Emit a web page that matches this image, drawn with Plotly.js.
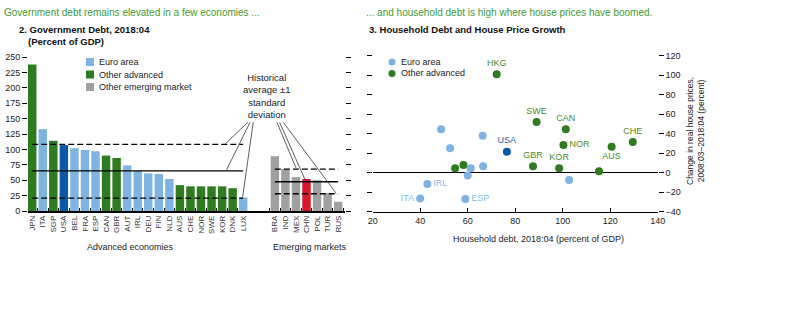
<!DOCTYPE html>
<html>
<head>
<meta charset="utf-8">
<script src="https://cdn.plot.ly/plotly-3.0.1.min.js"></script>
<style>html,body{margin:0;padding:0;background:#fff;}#chart{width:800px;height:330px;}</style>
</head>
<body>
<div id="chart"></div>
<script>
// ---------- Panel 2 data: Government debt, 2018:Q4 (percent of GDP) ----------
const advCodes = ['JPN','ITA','SGP','USA','BEL','FRA','ESP','CAN','GBR','AUT','IRL','DEU','FIN','NLD','AUS','CHE','NOR','SWE','KOR','DNK','LUX'];
const advDebt  = [238,133,114,107,102,99,97,90,86,74,65,61,60,52,42,40,40,40,40,37,22];
const advGroup = ['adv','euro','adv','usa','euro','euro','euro','adv','adv','euro','euro','euro','euro','euro','adv','adv','adv','adv','adv','adv','euro'];
const emCodes  = ['BRA','IND','MEX','CHN','POL','TUR','RUS'];
const emDebt   = [89,68,55,52,50,29,15];
const emGroup  = ['em','em','em','chn','em','em','em'];
// historical average -1sd, average, +1sd
const advBand  = [21, 65, 108];
const emBand   = [28, 47.5, 68];

// ---------- Panel 3 data: household debt vs house price growth ----------
const euroDebt   = [40, 43, 59, 60, 61.3, 66.5, 102.7, 52.6, 48.8, 66.3];
const euroPrice  = [-26.5, -11.5, -27, -3, 4.5, 6.5, -7.5, 25, 44.5, 38];
const euroLabels = ['ITA','IRL','ESP','','','','','','',''];
const othDebt    = [72.2, 89, 101.3, 100.3, 129.5, 120.6, 87.5, 98.5, 115.3, 54.7, 58.2];
const othPrice   = [101, 52, 44.5, 28.5, 31.5, 26.7, 6.5, 4.5, 1.5, 4.5, 8];
const othLabels  = ['HKG','SWE','CAN','NOR','CHE','AUS','GBR','KOR','','',''];
const usaDebt    = [76.5];
const usaPrice   = [21.5];
const usaLabels  = ['USA'];

// ---------- styles ----------
const C = {euro:'#7fb3e1', adv:'#2e7b20', usa:'#0a59a6', em:'#a0a0a0', chn:'#d7182a'};
const FONT = 'Liberation Sans, Arial, sans-serif';
const W = 800, H = 330;
const px = v => v / W, py = v => 1 - v / H;

// bar positions: advanced 0..20, gap, emerging after
const advPos = advCodes.map((_, i) => i);
const emStart = advCodes.length + 2;
const emPos = emCodes.map((_, i) => emStart + i);

const allPos = advPos.concat(emPos);
const allCodes = advCodes.concat(emCodes);
const allDebt = advDebt.concat(emDebt);
const allGroup = advGroup.concat(emGroup);

const traces = [];
['euro','adv','usa','em','chn'].forEach(g => {
  const xs = [], ys = [];
  allGroup.forEach((gg, i) => { if (gg === g) { xs.push(allPos[i]); ys.push(allDebt[i]); } });
  traces.push({type:'bar', x:xs, y:ys, width:0.8, marker:{color:C[g]}, xaxis:'x', yaxis:'y', showlegend:false, hoverinfo:'skip'});
});

function posFor(labels) {
  return labels.map(l => ({ITA:'middle left', AUS:'bottom center', NOR:'middle right', IRL:'middle right', ESP:'middle right'}[l] || 'top center'));
}
traces.push({type:'scatter', mode:'markers+text', x:euroDebt, y:euroPrice, text:euroLabels, textposition:posFor(euroLabels),
  textfont:{family:FONT, size:9, color:'#8dbbe3'}, marker:{size:8, color:C.euro}, xaxis:'x2', yaxis:'y2', showlegend:false, hoverinfo:'skip', cliponaxis:false});
traces.push({type:'scatter', mode:'markers+text', x:othDebt, y:othPrice, text:othLabels, textposition:posFor(othLabels),
  textfont:{family:FONT, size:9, color:'#4b8a2c'}, marker:{size:8, color:C.adv}, xaxis:'x2', yaxis:'y2', showlegend:false, hoverinfo:'skip', cliponaxis:false});
traces.push({type:'scatter', mode:'markers+text', x:usaDebt, y:usaPrice, text:usaLabels, textposition:'top center',
  textfont:{family:FONT, size:9, color:'#1a5fa8'}, marker:{size:8, color:C.usa}, xaxis:'x2', yaxis:'y2', showlegend:false, hoverinfo:'skip', cliponaxis:false});

// ---------- shapes ----------
const shapes = [];
const bandDash = ['6px,3px','solid','6px,3px'];
[[advBand, advPos[0], advPos[advPos.length-1]], [emBand, emPos[0], emPos[emPos.length-1]]].forEach(([band, x0, x1]) => {
  band.forEach((v, k) => shapes.push({type:'line', xref:'x', yref:'y', x0:x0, x1:x1, y0:v, y1:v, line:{color:'#000', width:1.3, dash:bandDash[k]}}));
});
// pointer lines from the "Historical average" note
const noteY = 144;
[[20.45,advBand[2]+1,18.3],[20.65,advBand[1]+1,18.4],[20.95,advBand[0]+2,19.95],
 [23.2,emBand[2]+2,25.0],[23.45,emBand[1]+2,25.9],[23.8,emBand[0]+1,28.8]].forEach(([xa, yb, xb]) => {
  shapes.push({type:'line', xref:'x', yref:'y', x0:xa, y0:noteY, x1:xb, y1:yb, line:{color:'#333', width:0.8}});
});
// legend swatches
const legL = [['Euro area', C.euro, 62], ['Other advanced', C.adv, 74.5], ['Other emerging market', C.em, 87]];
legL.forEach(([t, c, y]) => shapes.push({type:'rect', xref:'paper', yref:'paper', x0:px(86), x1:px(94), y0:py(y+4), y1:py(y-4), fillcolor:c, line:{width:0}}));
const legR = [['Euro area', C.euro, 62], ['Other advanced', C.adv, 73.5]];
legR.forEach(([t, c, y]) => shapes.push({type:'circle', xref:'paper', yref:'paper', x0:px(388.5), x1:px(395.5), y0:py(y+3.5), y1:py(y-3.5), fillcolor:c, line:{width:0}}));

// ---------- annotations ----------
const ann = [];
const txt = (x, y, text, o) => ann.push(Object.assign({xref:'paper', yref:'paper', x:px(x), y:py(y), text:text, showarrow:false,
  xanchor:'left', yanchor:'middle', font:{family:FONT, size:9, color:'#222'}}, o || {}));
txt(2, 12, 'Government debt remains elevated in a few economies ...', {font:{family:FONT, size:10, color:'#3f9a35'}});
txt(364, 12, '... and household debt is high where house prices have boomed.', {font:{family:FONT, size:10, color:'#3f9a35'}});
txt(17, 29, '<b>2. Government Debt, 2018:04</b>', {font:{family:FONT, size:9.5, color:'#111'}});
txt(26, 42, '<b>(Percent of GDP)</b>', {font:{family:FONT, size:9.5, color:'#111'}});
txt(367, 29, '<b>3. Household Debt and House Price Growth</b>', {font:{family:FONT, size:9.5, color:'#111'}});
legL.forEach(([t, c, y]) => txt(97, y, t));
legR.forEach(([t, c, y]) => txt(399, y, t));
txt(130, 247, 'Advanced economies', {xanchor:'center'});
txt(310, 247, 'Emerging markets', {xanchor:'center'});
txt(538, 239, 'Household debt, 2018:04 (percent of GDP)', {xanchor:'center'});
txt(695, 131, 'Change in real house prices,<br>2008:03–2018:04 (percent)', {xanchor:'center', textangle:-90, font:{family:FONT, size:8.5, color:'#222'}});
ann.push({xref:'x', yref:'y', x:22.25, y:187, text:'Historical<br>average ±1<br>standard<br>deviation', showarrow:false,
  xanchor:'center', yanchor:'middle', font:{family:FONT, size:9.5, color:'#222'}});

// ---------- layout ----------
const tickFont = {family:FONT, size:9, color:'#222'};
const layout = {
  width:W, height:H, autosize:false, margin:{l:0, r:0, t:0, b:0},
  paper_bgcolor:'#fff', plot_bgcolor:'rgba(0,0,0,0)', barmode:'overlay', showlegend:false,
  font:{family:FONT, size:9, color:'#222'},
  xaxis:{domain:[px(28), px(345)], range:[-0.4, 29.65], tickmode:'array', tickvals:allPos, ticktext:allCodes,
    tickangle:-90, tickfont:{family:FONT, size:8, color:'#333'}, ticks:'', showgrid:false, zeroline:false,
    showline:true, linecolor:'#000', linewidth:1.5, anchor:'y', fixedrange:true,
    minor:{tickmode:'array', tickvals:allPos.map(p => p - 0.5).concat([allPos[allPos.length-1] + 0.5]), ticks:'inside', ticklen:3, tickcolor:'#000', tickwidth:1, showgrid:false}},
  yaxis:{domain:[1 - 211/H, 1 - 57/H], range:[0, 250], dtick:25, tick0:0, ticks:'outside', ticklen:5, tickcolor:'#000', tickwidth:1,
    mirror:'ticks', showline:false, showgrid:false, zeroline:false, tickfont:tickFont, anchor:'x', fixedrange:true},
  xaxis2:{domain:[px(372.7), px(657.7)], range:[20, 140], dtick:20, tick0:20, ticks:'inside', ticklen:4, tickcolor:'#000',
    showline:true, linecolor:'#000', linewidth:1.5, showgrid:false, zeroline:false, tickfont:{family:FONT, size:9, color:'#222'}, anchor:'y2', fixedrange:true},
  yaxis2:{domain:[1 - 211.7/H, 1 - 55.7/H], range:[-40, 120], dtick:20, tick0:0, side:'right', ticks:'outside', ticklen:5, tickcolor:'#000',
    mirror:'ticks', showline:false, showgrid:false, zeroline:true, zerolinecolor:'#000', zerolinewidth:1.5,
    tickfont:tickFont, anchor:'x2', fixedrange:true},
  shapes:shapes, annotations:ann
};

Plotly.newPlot('chart', traces, layout, {displayModeBar:false, staticPlot:true});
</script>
</body>
</html>
